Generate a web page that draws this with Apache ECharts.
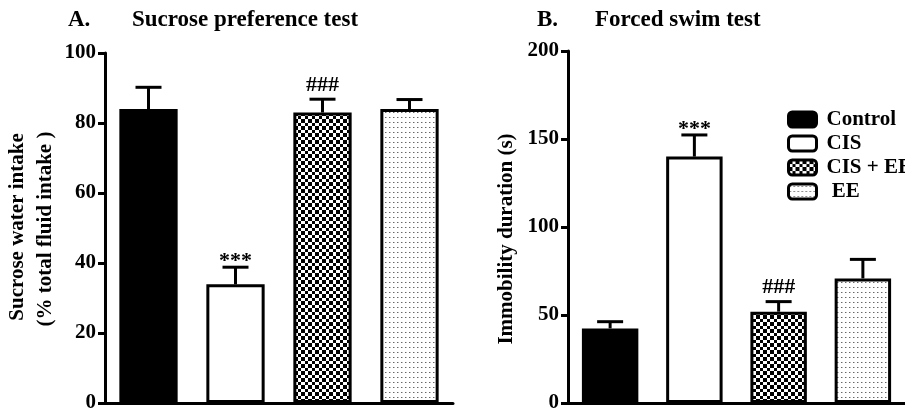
<!DOCTYPE html>
<html><head><meta charset="utf-8">
<script src="https://cdn.jsdelivr.net/npm/echarts@6/dist/echarts.min.js"></script>
<style>html,body{margin:0;padding:0;background:#fff}#c{width:905px;height:416px}</style>
</head><body><div id="c"></div>
<script>
const categories = ['Control', 'CIS', 'CIS + EE', 'EE'];
const sucroseMean = [84, 33.9, 83, 84];
const sucroseErrTop = [90.2, 38.8, 86.8, 86.7];
const sucroseMarks = ['', '***', '###', ''];
const fstMean = [42.4, 140, 51.9, 70.8];
const fstErrTop = [46.2, 152.3, 57.6, 81.6];
const fstMarks = ['', '***', '###', ''];
const sucroseTicks = [0, 20, 40, 60, 80, 100];
const fstTicks = [0, 50, 100, 150, 200];

const FONT = "'Liberation Serif','Times New Roman',serif";

function checker() {
  const c = document.createElement('canvas'); c.width = c.height = 7;
  const g = c.getContext('2d');
  g.fillStyle = '#fff'; g.fillRect(0, 0, 7, 7);
  g.fillStyle = '#000'; g.fillRect(0, 0, 4, 4); g.fillRect(4, 4, 3, 3);
  return c;
}
function dots() {
  const c = document.createElement('canvas'); c.width = 4; c.height = 5;
  const g = c.getContext('2d');
  g.fillStyle = '#fff'; g.fillRect(0, 0, 4, 5);
  g.fillStyle = '#666'; g.fillRect(1, 2, 1, 1);
  g.fillStyle = '#bbb'; g.fillRect(2, 2, 1, 1);
  return c;
}
const fills = ['#000', '#fff', { image: checker(), repeat: 'repeat' }, { image: dots(), repeat: 'repeat' }];

function barSeries(idx, means, stack) {
  return categories.map((name, i) => ({
    type: 'bar', name: name, xAxisIndex: idx, yAxisIndex: idx, stack: stack,
    barWidth: '67%',
    itemStyle: { color: fills[i], borderColor: '#000', borderWidth: 3 },
    data: means.map((v, j) => j === i ? v : '-'),
    animation: false
  }));
}
function errSeries(idx, means, tops, marks) {
  return {
    type: 'custom', xAxisIndex: idx, yAxisIndex: idx, z: 10, animation: false,
    data: means.map((m, i) => [i, m, tops[i]]),
    renderItem: function (params, api) {
      const i = api.value(0);
      const p1 = api.coord([i, api.value(1)]);
      const p2 = api.coord([i, api.value(2)]);
      const hw = 13;
      const ch = [
        { type: 'line', shape: { x1: p1[0], y1: p1[1], x2: p2[0], y2: p2[1] }, style: { stroke: '#000', lineWidth: 3 } },
        { type: 'line', shape: { x1: p2[0] - hw, y1: p2[1], x2: p2[0] + hw, y2: p2[1] }, style: { stroke: '#000', lineWidth: 3 } }
      ];
      const mk = marks[params.dataIndex];
      if (mk) {
        ch.push({ type: 'text', x: p2[0], y: mk === '***' ? p2[1] + 5 : p2[1] - 3,
          style: { text: mk, font: 'bold 22px ' + FONT, fill: '#000', align: 'center', verticalAlign: 'bottom' } });
      }
      return { type: 'group', children: ch };
    }
  };
}
function yAx(idx, max, interval) {
  return {
    type: 'value', gridIndex: idx, min: 0, max: max, interval: interval,
    axisLine: { show: true, lineStyle: { color: '#000', width: 3 } },
    axisTick: { show: true, length: 7, lineStyle: { color: '#000', width: 3 } },
    axisLabel: { color: '#000', fontFamily: FONT, fontWeight: 'bold', fontSize: 21, margin: 9 },
    splitLine: { show: false }
  };
}
function xAx(idx) {
  return {
    type: 'category', gridIndex: idx, data: categories,
    axisLine: { show: true, lineStyle: { color: '#000', width: 3 } },
    axisTick: { show: false }, axisLabel: { show: false }
  };
}

const chart = echarts.init(document.getElementById('c'), null, { renderer: 'canvas' });
chart.setOption({
  backgroundColor: '#fff',
  animation: false,
  grid: [
    { left: 105, top: 53, width: 348, height: 350 },
    { left: 568, top: 51, width: 352, height: 352 }
  ],
  xAxis: [xAx(0), xAx(1)],
  yAxis: [yAx(0, sucroseTicks[sucroseTicks.length - 1], sucroseTicks[1] - sucroseTicks[0]),
          yAx(1, fstTicks[fstTicks.length - 1], fstTicks[1] - fstTicks[0])],
  legend: {
    orient: 'vertical', left: 782, top: 104, itemWidth: 28, itemHeight: 15, itemGap: 3,
    icon: 'roundRect', selectedMode: false,
    itemStyle: { borderColor: '#000', borderWidth: 3 },
    textStyle: { color: '#000', fontFamily: FONT, fontWeight: 'bold', fontSize: 21, padding: [0, 0, 0, 5] },
    formatter: n => n === 'EE' ? ' ' + n : n,
    data: categories
  },
  graphic: [
    { type: 'text', left: 68, top: 9, style: { text: 'A.', font: 'bold 23px ' + FONT, fill: '#000' } },
    { type: 'text', left: 132, top: 9, style: { text: 'Sucrose preference test', font: 'bold 23px ' + FONT, fill: '#000' } },
    { type: 'text', left: 537, top: 9, style: { text: 'B.', font: 'bold 23px ' + FONT, fill: '#000' } },
    { type: 'text', left: 595, top: 9, style: { text: 'Forced swim test', font: 'bold 23px ' + FONT, fill: '#000' } },
    { type: 'text', x: 18, y: 227, rotation: Math.PI / 2,
      style: { text: 'Sucrose water intake', font: 'bold 21px ' + FONT, fill: '#000', align: 'center', verticalAlign: 'middle' } },
    { type: 'text', x: 46, y: 229, rotation: Math.PI / 2,
      style: { text: '(% total fluid intake )', font: 'bold 21px ' + FONT, fill: '#000', align: 'center', verticalAlign: 'middle' } },
    { type: 'text', x: 507, y: 239, rotation: Math.PI / 2,
      style: { text: 'Immobility duration (s)', font: 'bold 21px ' + FONT, fill: '#000', align: 'center', verticalAlign: 'middle' } }
  ],
  series: [].concat(
    barSeries(0, sucroseMean, 'a'), [errSeries(0, sucroseMean, sucroseErrTop, sucroseMarks)],
    barSeries(1, fstMean, 'b'), [errSeries(1, fstMean, fstErrTop, fstMarks)]
  )
});
</script></body></html>
